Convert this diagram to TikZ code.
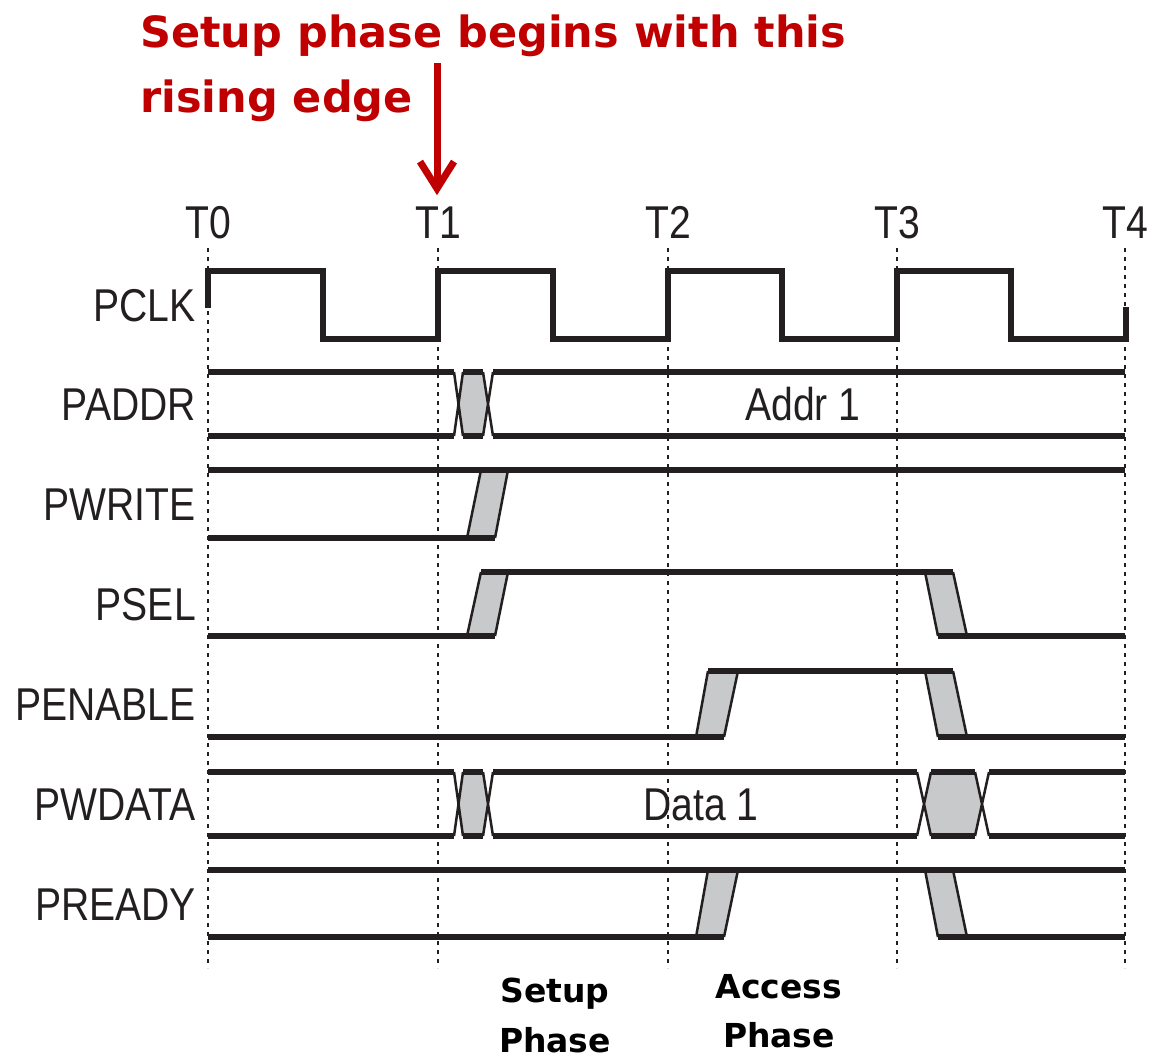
\documentclass[tikz,border=0pt]{standalone}
\usepackage{fontspec}
\setmainfont{Liberation Sans}
\newfontfamily\tfont{DejaVu Sans}
\usetikzlibrary{arrows.meta}
\definecolor{tred}{RGB}{192,0,0}
\definecolor{tgray}{RGB}{200,201,203}
\definecolor{tblack}{RGB}{35,31,32}
\newcommand\nar[1]{\scalebox{0.85}[1]{#1}}
\tikzset{
  sig/.style={line width=5.5pt, tblack, line join=miter},
  edge/.style={line width=2.5pt, tblack},
  trans/.style={fill=tgray, draw=none},
  tick/.style={line width=2.3pt, tblack, dash pattern=on 4pt off 5pt},
  lab/.style={inner sep=0pt, anchor=base east, font=\fontsize{46}{50}\selectfont, tblack},
  tlab/.style={inner sep=0pt, anchor=base, font=\fontsize{46}{50}\selectfont, tblack},
  val/.style={inner sep=0pt, anchor=base, font=\fontsize{46}{50}\selectfont, tblack},
  title/.style={inner sep=0pt, anchor=base west, text=tred, font=\tfont\bfseries\fontsize{43}{50}\selectfont},
  phase/.style={inner sep=0pt, anchor=base, text=black, font=\tfont\bfseries\fontsize{33}{38}\selectfont},
  redarrow/.style={line width=7pt, tred, -{Straight Barb[length=27pt,width=34pt]}}
}
\begin{document}
\begin{tikzpicture}[x=1pt,y=-1pt]
\useasboundingbox[fill=white] (0,0) rectangle (1157,1058);

% title
\node[title] (title1) at (140,47) {Setup phase begins with this};
\node[title] (title2) at (140,112) {rising edge};

% time labels
\node[tlab] (T0lab) at (208,238) {\nar{T0}};
\node[tlab] (T1lab) at (438,238) {\nar{T1}};
\node[tlab] (T2lab) at (668,238) {\nar{T2}};
\node[tlab] (T3lab) at (897,238) {\nar{T3}};
\node[tlab] (T4lab) at (1125,238) {\nar{T4}};

% arrow
\coordinate (arrtop) at (437,63);
\draw[redarrow, shorten >=11pt] (arrtop) -- (arrtop |- T1lab.north);

% dotted time lines
\foreach \x in {208,438,668,897,1125} \draw[tick] (\x,248) -- (\x,968);

% signal labels
\node[lab] (lPCLK) at (196,321) {\nar{PCLK}};
\node[lab] (lPADDR) at (196,420) {\nar{PADDR}};
\node[lab] (lPWRITE) at (196,520) {\nar{PWRITE}};
\node[lab] (lPSEL) at (196,620) {\nar{PSEL}};
\node[lab] (lPENABLE) at (196,720) {\nar{PENABLE}};
\node[lab] (lPWDATA) at (196,820) {\nar{PWDATA}};
\node[lab] (lPREADY) at (196,920) {\nar{PREADY}};

% PCLK
\draw[sig] (208,308) -- (208,271) -- (323,271) -- (323,339) -- (438,339) -- (438,271)
  -- (553,271) -- (553,339) -- (668,339) -- (668,271) -- (782,271) -- (782,339)
  -- (897,339) -- (897,271) -- (1011,271) -- (1011,339) -- (1126,339) -- (1126,307);

% PADDR
\fill[trans] (458.5,404) -- (463,372) -- (483,372) -- (488,404) -- (483,436) -- (463,436) -- cycle;
\draw[sig] (208,372) -- (454,372) (463,372) -- (483,372) (493,372) -- (1125,372);
\draw[sig] (208,436) -- (454,436) (463,436) -- (483,436) (493,436) -- (1125,436);
\draw[edge] (454,372) -- (463,436) (454,436) -- (463,372);
\draw[edge] (483,372) -- (493,436) (483,436) -- (493,372);
\node[val] (vaddr) at (803,420) {\nar{Addr 1}};

% PWRITE
\fill[trans] (467,538) -- (481,470) -- (508,470) -- (495,538) -- cycle;
\draw[sig] (208,470) -- (1125,470);
\draw[sig] (208,538) -- (495,538);
\draw[edge] (467,538) -- (481,470) (495,538) -- (508,470);

% PSEL
\fill[trans] (467,636) -- (481,572) -- (508,572) -- (495,636) -- cycle;
\fill[trans] (925,572) -- (953,572) -- (967,636) -- (938,636) -- cycle;
\draw[sig] (208,636) -- (495,636);
\draw[sig] (481,572) -- (953,572);
\draw[sig] (938,636) -- (1125,636);
\draw[edge] (467,636) -- (481,572) (495,636) -- (508,572);
\draw[edge] (925,572) -- (938,636) (953,572) -- (967,636);

% PENABLE
\fill[trans] (696,737) -- (708,671) -- (738,671) -- (724,737) -- cycle;
\fill[trans] (925,671) -- (953,671) -- (967,737) -- (938,737) -- cycle;
\draw[sig] (208,737) -- (724,737);
\draw[sig] (708,671) -- (953,671);
\draw[sig] (938,737) -- (1125,737);
\draw[edge] (696,737) -- (708,671) (724,737) -- (738,671);
\draw[edge] (925,671) -- (938,737) (953,671) -- (967,737);

% PWDATA
\fill[trans] (458.5,804) -- (463,772) -- (483,772) -- (488,804) -- (483,836) -- (463,836) -- cycle;
\fill[trans] (924,804) -- (931,772) -- (975,772) -- (982,804) -- (975,836) -- (931,836) -- cycle;
\draw[sig] (208,772) -- (454,772) (463,772) -- (483,772) (493,772) -- (917,772) (931,772) -- (975,772) (989,772) -- (1125,772);
\draw[sig] (208,836) -- (454,836) (463,836) -- (483,836) (493,836) -- (917,836) (931,836) -- (975,836) (989,836) -- (1125,836);
\draw[edge] (454,772) -- (463,836) (454,836) -- (463,772);
\draw[edge] (483,772) -- (493,836) (483,836) -- (493,772);
\draw[edge] (917,772) -- (931,836) (917,836) -- (931,772);
\draw[edge] (975,772) -- (989,836) (975,836) -- (989,772);
\node[val] (vdata) at (701,820) {\nar{Data 1}};

% PREADY
\fill[trans] (696,937) -- (708,870) -- (738,870) -- (724,937) -- cycle;
\fill[trans] (925,870) -- (953,870) -- (967,937) -- (938,937) -- cycle;
\draw[sig] (208,870) -- (1125,870);
\draw[sig] (208,937) -- (724,937);
\draw[sig] (938,937) -- (1125,937);
\draw[edge] (696,937) -- (708,870) (724,937) -- (738,870);
\draw[edge] (925,870) -- (938,937) (953,870) -- (967,937);

% phase labels
\node[phase] (setup1) at (555,1002) {Setup};
\node[phase] (setup2) at (555,1052) {Phase};
\node[phase] (access1) at (779,998) {Access};
\node[phase] (access2) at (779,1047) {Phase};
\end{tikzpicture}
\end{document}
